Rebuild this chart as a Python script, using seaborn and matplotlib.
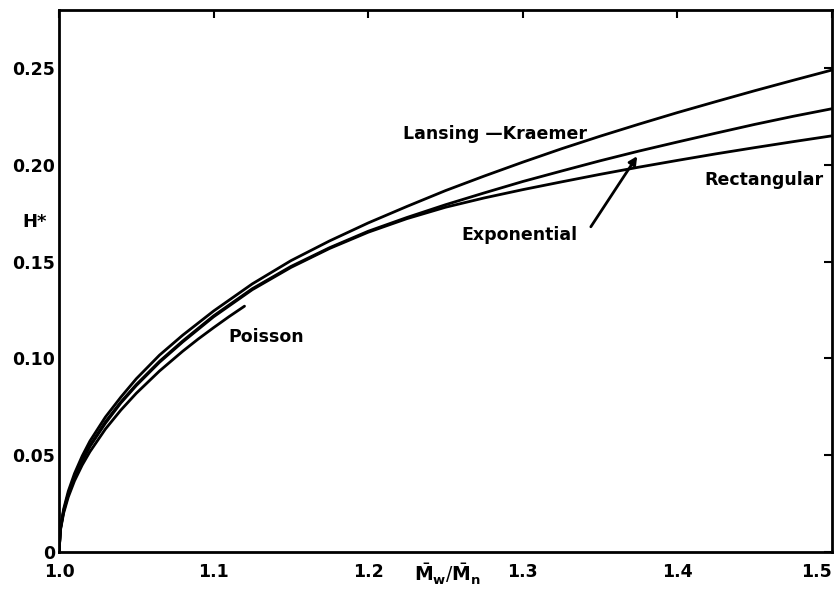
import numpy as np
import pandas as pd
import matplotlib
matplotlib.use("Agg")
import matplotlib.pyplot as plt
import seaborn as sns

# ---- data ----
x_grid = [1.0, 1.001, 1.003, 1.006, 1.01, 1.015, 1.02, 1.03, 1.04, 1.05, 1.065, 1.08,
          1.1, 1.125, 1.15, 1.175, 1.2, 1.225, 1.25, 1.275, 1.3, 1.325, 1.35, 1.375,
          1.4, 1.425, 1.45, 1.475, 1.5]
h_lansing = [0.0, 0.0128, 0.0222, 0.0314, 0.0405, 0.0496, 0.0573, 0.0697, 0.0800, 0.0895,
             0.1017, 0.1120, 0.1245, 0.1385, 0.1505, 0.1607, 0.1700, 0.1785, 0.1867,
             0.1942, 0.2014, 0.2083, 0.2148, 0.2210, 0.2270, 0.2327, 0.2383, 0.2437, 0.2490]
h_exponential = [0.0, 0.0123, 0.0213, 0.0301, 0.0389, 0.0476, 0.0550, 0.0672, 0.0775,
                 0.0865, 0.0985, 0.1090, 0.1220, 0.1360, 0.1475, 0.1572, 0.1657, 0.1728,
                 0.1794, 0.1855, 0.1914, 0.1968, 0.2021, 0.2071, 0.2118, 0.2164, 0.2209,
                 0.2251, 0.2290]
h_rectangular = [0.0, 0.0121, 0.0210, 0.0298, 0.0385, 0.0470, 0.0545, 0.0665, 0.0770,
                 0.0860, 0.0980, 0.1085, 0.1215, 0.1355, 0.1470, 0.1568, 0.1652, 0.1722,
                 0.1781, 0.1829, 0.1872, 0.1912, 0.1951, 0.1988, 0.2023, 0.2057, 0.2089,
                 0.2120, 0.2150]
x_poisson = [1.0, 1.001, 1.003, 1.006, 1.01, 1.015, 1.02, 1.03, 1.04, 1.05, 1.065, 1.08,
             1.09, 1.1, 1.11, 1.12]
h_poisson = [0.0, 0.0116, 0.0201, 0.0284, 0.0367, 0.0449, 0.0518, 0.0635, 0.0733, 0.0820,
             0.0935, 0.1037, 0.1100, 0.1159, 0.1216, 0.1270]

x_ticks = [1.0, 1.1, 1.2, 1.3, 1.4, 1.5]
x_ticklabels = ["1.0", "1.1", "1.2", "1.3", "1.4", "1.5"]
y_ticks = [0.0, 0.05, 0.10, 0.15, 0.20, 0.25]
y_ticklabels = ["0", "0.05", "0.10", "0.15", "0.20", "0.25"]

frames = []
for name, xs, hs in [("Lansing-Kraemer", x_grid, h_lansing),
                     ("Exponential", x_grid, h_exponential),
                     ("Rectangular", x_grid, h_rectangular),
                     ("Poisson", x_poisson, h_poisson)]:
    frames.append(pd.DataFrame({"x": xs, "H": hs, "curve": name}))
df = pd.concat(frames, ignore_index=True)

sns.set_style("white")
plt.rcParams["font.family"] = ["DejaVu Sans"]
plt.rcParams["mathtext.fontset"] = "dejavusans"
plt.rcParams["text.color"] = "black"
plt.rcParams["xtick.color"] = "black"
plt.rcParams["ytick.color"] = "black"

fig = plt.figure(figsize=(8.36, 6.02), dpi=100)
ax = fig.add_axes([59/836, 1-552/602, (832-59)/836, (552-10)/602])

sns.lineplot(data=df, x="x", y="H", units="curve", estimator=None,
             color="black", linewidth=2.0, sort=True, ax=ax, legend=False)

ax.set_xlim(1.0, 1.5)
ax.set_ylim(0.0, 0.28)
ax.set_xticks(x_ticks)
ax.set_xticklabels(x_ticklabels, fontsize=12.5, fontweight="bold", color="black")
ax.set_yticks(y_ticks)
ax.set_yticklabels(y_ticklabels, fontsize=12.5, fontweight="bold", color="black")
lbls = ax.get_xticklabels()
lbls[-1].set_horizontalalignment("right")
ax.tick_params(direction="in", top=True, right=True, length=6, width=1.5,
               colors="black")
ax.tick_params(axis="x", pad=8)
ax.tick_params(axis="y", pad=3)
for s in ax.spines.values():
    s.set_visible(True)
    s.set_color("black")
    s.set_linewidth(2.0)

ax.set_xlabel("")
ax.set_ylabel("")
ax.text(0.502, -0.042, r"$\bar{\mathbf{M}}_{\mathbf{w}}/\bar{\mathbf{M}}_{\mathbf{n}}$",
        transform=ax.transAxes, ha="center", va="center", fontsize=13.5, color="black")
ax.text(-0.031, 0.609, "H*", transform=ax.transAxes, ha="center", va="center",
        fontsize=13, fontweight="bold", color="black")

lab_kw = dict(ha="center", va="center", fontsize=12.5, fontweight="bold", color="black")
ax.text(1.282, 0.216, "Lansing \u2014Kraemer", **lab_kw)
ax.text(1.456, 0.192, "Rectangular", **lab_kw)
ax.text(1.298, 0.164, "Exponential", **lab_kw)
ax.text(1.134, 0.111, "Poisson", **lab_kw)

ax.annotate("", xy=(1.374, 0.2045), xytext=(1.344, 0.168),
            arrowprops=dict(arrowstyle="-|>", color="black", lw=2, mutation_scale=12,
                            shrinkA=0, shrinkB=0))

fig.savefig("out.png", dpi=100)
